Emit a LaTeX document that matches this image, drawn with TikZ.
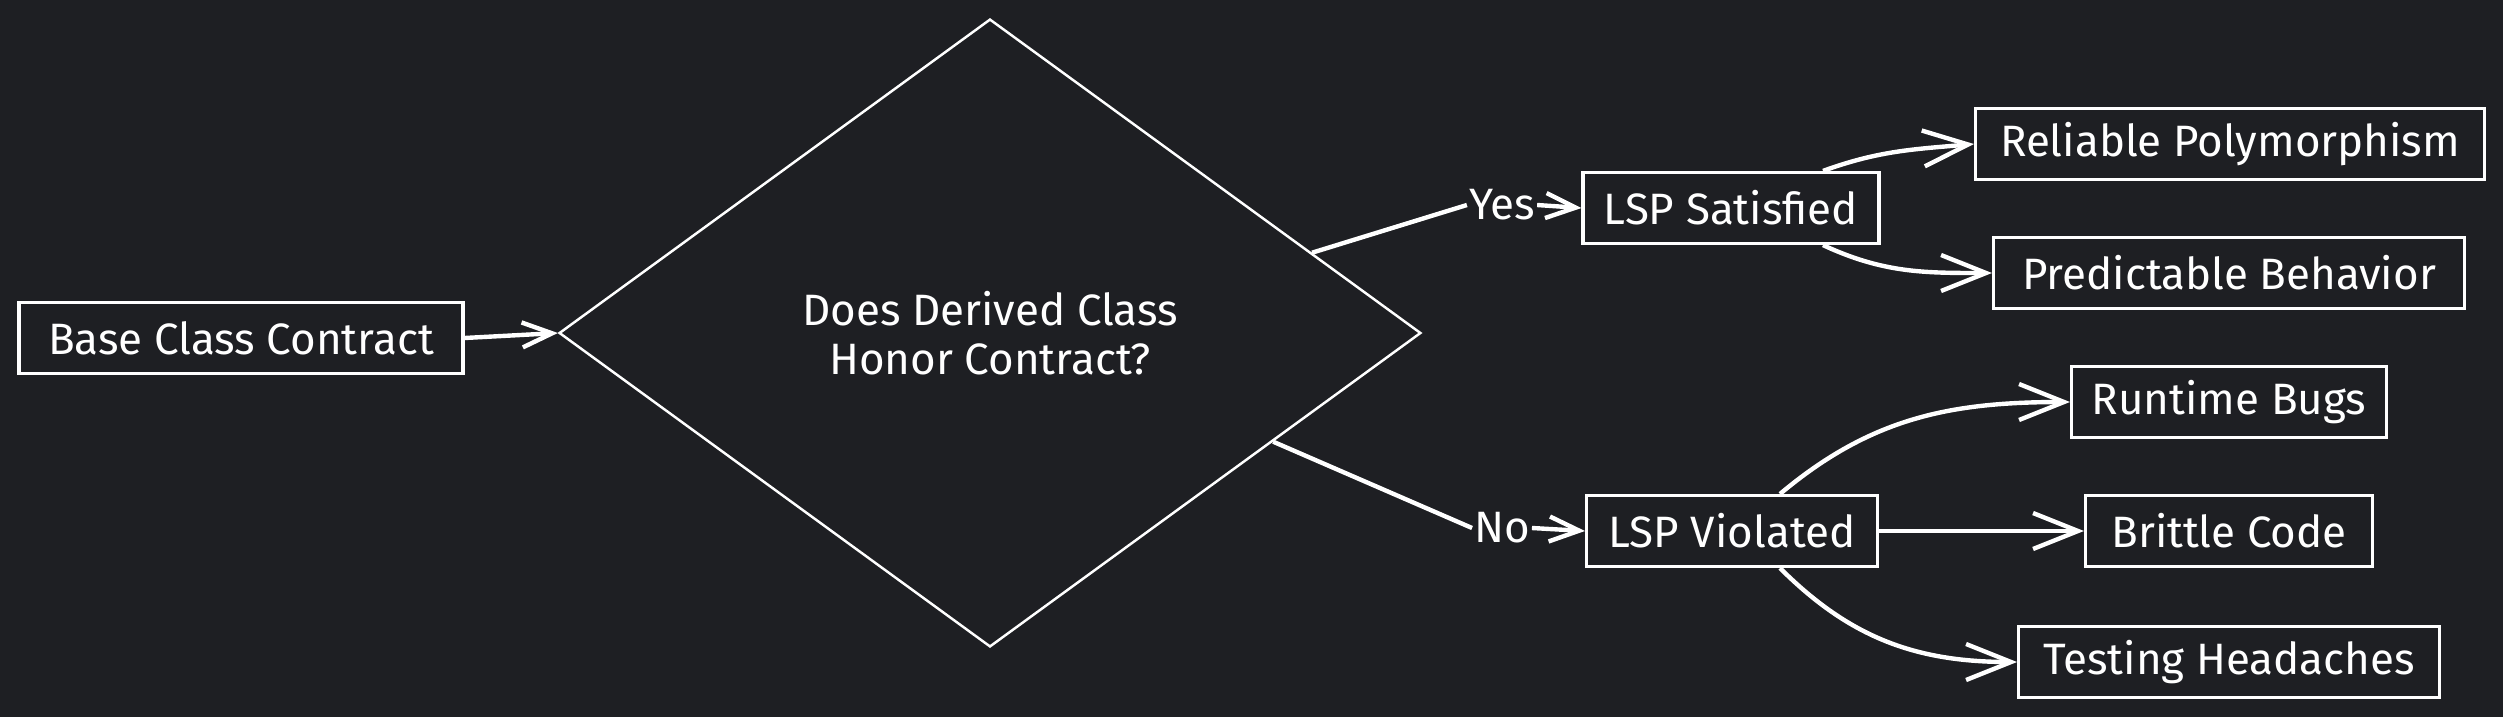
\documentclass[tikz,border=0pt]{standalone}
\usepackage{fontspec}
\setmainfont{Fira Sans}
\usetikzlibrary{shapes.geometric, calc, arrows.meta}

\definecolor{bgcol}{RGB}{30,31,35}

\begin{document}
\begin{tikzpicture}[x=0.02cm, y=-0.02cm,
        txt/.style={text=white, font=\fontsize{25}{28}\selectfont},
        box/.style={txt, draw=white, line width=1.8pt, minimum height=1.42cm, inner sep=0pt},
        lbl/.style={txt, inner sep=1pt},
        link/.style={draw=white, line width=2.5pt},
        arr/.style={link, -{Straight Barb[length=0.9cm, width=0.72cm, line width=2.5pt]}},
        sarr/.style={link, -{Straight Barb[length=0.6cm, width=0.5cm, line width=2.5pt]}}]
        % Background
        \fill[bgcol] (0,0) rectangle (2503,717);
        \useasboundingbox (0,0) rectangle (2503,717);

        % Draw the nodes
        \node[box, minimum width=8.88cm] (base) at (241,338) {Base Class Contract};
        \node[txt, draw=white, line width=1.4pt, shape=diamond, inner sep=0pt,
              minimum width=17.24cm, minimum height=12.56cm, align=center] (dec) at (990,333)
              {Does Derived Class\\Honor Contract?};
        \node[box, minimum width=5.92cm] (sat) at (1731,208) {LSP Satisfied};
        \node[box, minimum width=5.82cm] (vio) at (1732,531) {LSP Violated};
        \node[box, minimum width=10.18cm] (rel) at (2230,144) {Reliable Polymorphism};
        \node[box, minimum width=9.42cm] (pred) at (2229,273) {Predictable Behavior};
        \node[box, minimum width=6.3cm] (run) at (2229,402) {Runtime Bugs};
        \node[box, minimum width=5.74cm] (brit) at (2229,531) {Brittle Code};
        \node[box, minimum width=8.42cm] (test) at (2229,662) {Testing Headaches};

        % Branch labels
        \node[lbl] (yes) at (1502,205) {Yes};
        \node[lbl] (no) at (1502,528) {No};

        % Draw the connectors
        \draw[sarr] (base.east) -- (dec.west);
        \draw[link] (dec.14) -- (yes.west);
        \draw[sarr] (yes.east) -- (sat.west);
        \draw[link] (dec.-21) -- (no.west);
        \draw[sarr] (no.east) -- (vio.west);

        \draw[arr] ($(sat.north)+(92,0)$) to[out=20, in=185] (rel.west);
        \draw[arr] ($(sat.south)+(92,0)$) to[out=-25, in=180] (pred.west);

        \draw[arr] ($(vio.north)+(48,0)$) to[out=40, in=180] (run.west);
        \draw[arr] (vio.east) -- (brit.west);
        \draw[arr] ($(vio.south)+(48,0)$) to[out=-45, in=180] (test.west);
    \end{tikzpicture}
\end{document}
